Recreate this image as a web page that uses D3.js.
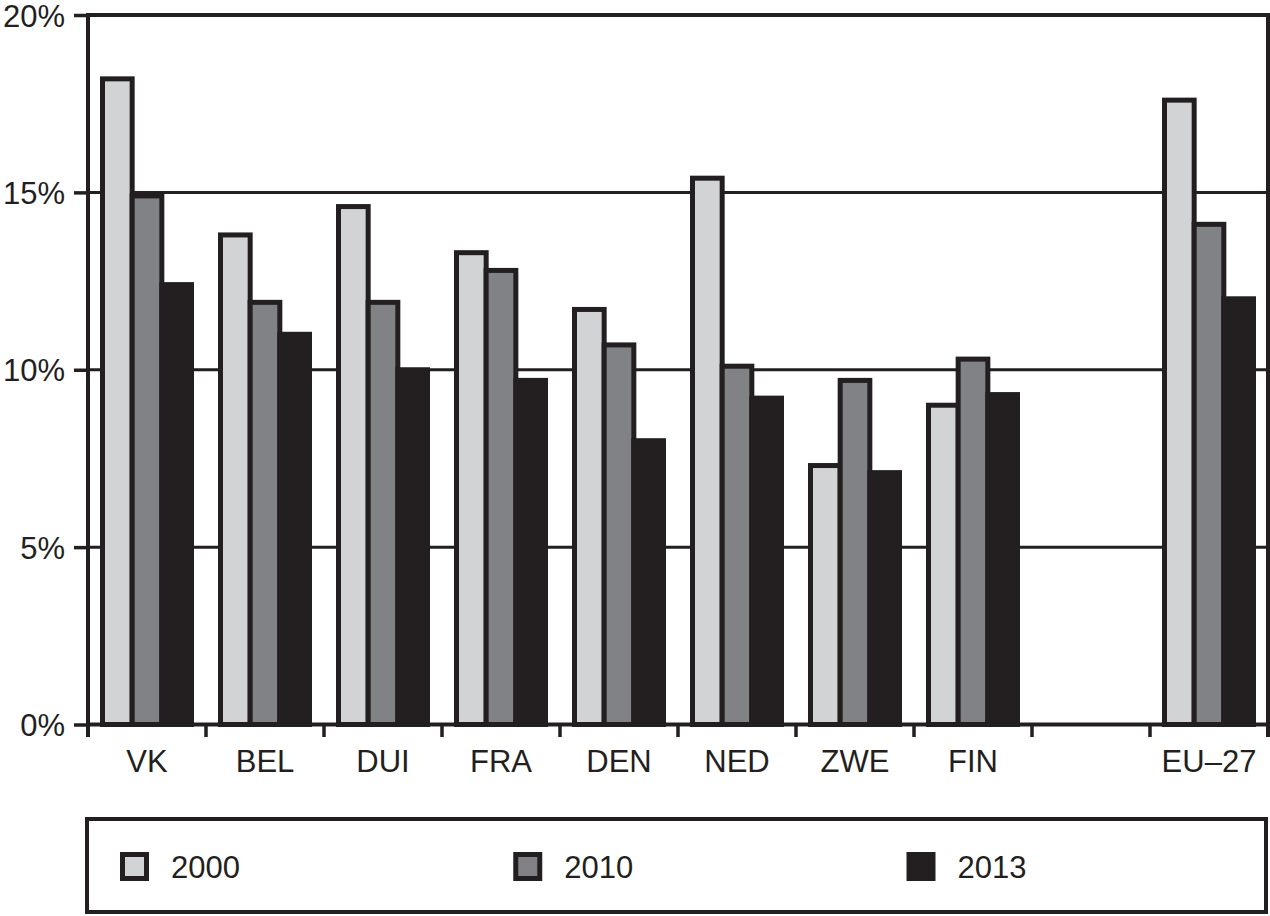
<!DOCTYPE html>
<html>
<head>
<meta charset="utf-8">
<script src="https://cdn.jsdelivr.net/npm/d3@7"></script>
<style>
  html, body { margin: 0; padding: 0; background: #ffffff; }
  svg { display: block; }
  text { font-family: "Liberation Sans", Arial, Helvetica, sans-serif; fill: #231f20; }
</style>
</head>
<body>
<svg id="chart" width="1270" height="916"></svg>
<script>
// ---- data ----
const categories = ["VK", "BEL", "DUI", "FRA", "DEN", "NED", "ZWE", "FIN", "", "EU–27"];
const seriesNames = ["2000", "2010", "2013"];
const values2000 = [18.2, 13.8, 14.6, 13.3, 11.7, 15.4, 7.3, 9.0, null, 17.6];
const values2010 = [14.9, 11.9, 11.9, 12.8, 10.7, 10.1, 9.7, 10.3, null, 14.1];
const values2013 = [12.4, 11.0, 10.0, 9.7, 8.0, 9.2, 7.1, 9.3, null, 12.0];
const yTicks = [0, 5, 10, 15, 20];
const seriesColors = ["#d1d3d4", "#808285", "#231f20"];

const seriesValues = [values2000, values2010, values2013];
const ink = "#231f20";

const svg = d3.select("#chart");

const plotLeft = 88, plotRight = 1268, plotTop = 15, plotBottom = 724.5;

const x = d3.scaleBand().domain(categories).range([plotLeft, plotRight]).paddingInner(0).paddingOuter(0);
const xs = d3.scaleBand().domain(seriesNames).range([14.5, 103.5]).padding(0);
const y = d3.scaleLinear().domain([0, 20]).range([plotBottom, plotTop]);

// gridlines
svg.append("g").selectAll("line")
  .data(yTicks.filter(d => d > 0 && d < 20))
  .join("line")
  .attr("x1", plotLeft).attr("x2", plotRight)
  .attr("y1", d => y(d)).attr("y2", d => y(d))
  .attr("stroke", ink).attr("stroke-width", 3);

// bars
const groups = svg.append("g").selectAll("g")
  .data(categories)
  .join("g")
  .attr("transform", d => `translate(${x(d)},0)`);

groups.each(function(cat, ci) {
  const g = d3.select(this);
  seriesNames.forEach((s, si) => {
    const v = seriesValues[si][ci];
    if (v == null) return;
    g.append("rect")
      .attr("x", xs(s))
      .attr("width", xs.bandwidth())
      .attr("y", y(v))
      .attr("height", y(0) - y(v))
      .attr("fill", seriesColors[si])
      .attr("stroke", ink)
      .attr("stroke-width", 5);
  });
});

// frame: top and right
svg.append("line").attr("x1", plotLeft).attr("x2", plotRight + 2).attr("y1", plotTop).attr("y2", plotTop)
  .attr("stroke", ink).attr("stroke-width", 4);
svg.append("line").attr("x1", plotRight).attr("x2", plotRight).attr("y1", plotTop).attr("y2", 737)
  .attr("stroke", ink).attr("stroke-width", 4);

// y axis
const yAxis = svg.append("g")
  .attr("transform", `translate(${plotLeft},0)`)
  .call(d3.axisLeft(y).tickValues(yTicks).tickSize(14).tickPadding(9).tickFormat(d => d + "%"));
yAxis.select(".domain").remove();
yAxis.selectAll(".tick line").attr("stroke", ink).attr("stroke-width", 3.5);
yAxis.selectAll(".tick text").attr("font-size", 31).attr("font-family", null).attr("fill", ink).attr("dy", "0.36em");
svg.append("line").attr("x1", plotLeft).attr("x2", plotLeft).attr("y1", plotTop - 2).attr("y2", 737)
  .attr("stroke", ink).attr("stroke-width", 4);

// x axis line
svg.append("line").attr("x1", plotLeft).attr("x2", plotRight).attr("y1", plotBottom).attr("y2", plotBottom)
  .attr("stroke", ink).attr("stroke-width", 4);

// x boundary ticks
const boundaries = categories.map(c => x(c)).concat([plotRight]);
svg.append("g").selectAll("line")
  .data(boundaries)
  .join("line")
  .attr("x1", d => d).attr("x2", d => d)
  .attr("y1", plotBottom).attr("y2", 737)
  .attr("stroke", ink).attr("stroke-width", 3.5);

// x labels via axis
const xAxis = svg.append("g")
  .attr("transform", `translate(0,${plotBottom})`)
  .call(d3.axisBottom(x).tickSize(0).tickPadding(0));
xAxis.select(".domain").remove();
xAxis.selectAll(".tick text")
  .attr("font-size", 31).attr("font-family", null).attr("fill", ink)
  .attr("y", 47.5).attr("dy", 0);

// legend
const legend = svg.append("g");
legend.append("rect")
  .attr("x", 87).attr("y", 819).attr("width", 1179).attr("height", 93)
  .attr("fill", "none").attr("stroke", ink).attr("stroke-width", 4);

const legendX = d3.scalePoint().domain(seriesNames).range([122.5, 909]);
const items = legend.selectAll("g.item")
  .data(seriesNames)
  .join("g").attr("class", "item")
  .attr("transform", d => `translate(${legendX(d)},0)`);
items.append("rect")
  .attr("x", 0).attr("y", 854.5).attr("width", 24).attr("height", 24)
  .attr("fill", (d, i) => seriesColors[i]).attr("stroke", ink).attr("stroke-width", 5);
items.append("text")
  .attr("x", 48.5).attr("y", 878)
  .attr("font-size", 31)
  .text(d => d);
</script>
</body>
</html>
